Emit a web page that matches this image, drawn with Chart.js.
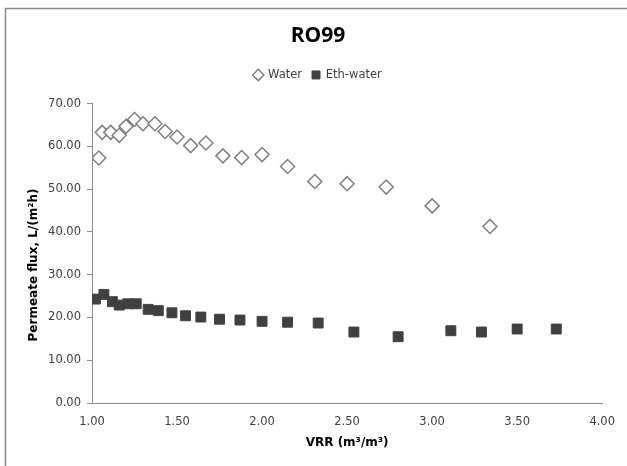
<!DOCTYPE html>
<html>
<head>
<meta charset="utf-8">
<script src="https://cdn.jsdelivr.net/npm/chart.js@4.4.1/dist/chart.umd.min.js"></script>
<style>
	body { margin: 0; background: #fff; }
	#wrap { width: 627px; height: 466px; position: relative; }
</style>
</head>
<body>
<div id="wrap"><canvas id="grafico_ro99"></canvas></div>
<script>
// Datos
const waterVRR = [1.04, 1.06, 1.11, 1.16, 1.20, 1.25, 1.30, 1.37, 1.43, 1.50, 1.58, 1.67, 1.77, 1.88, 2.00, 2.15, 2.31, 2.50, 2.73, 3.00, 3.34];
const waterFlux = [57.3, 63.3, 63.3, 62.6, 64.7, 66.3, 65.3, 65.3, 63.5, 62.2, 60.2, 60.8, 57.8, 57.4, 58.1, 55.3, 51.8, 51.3, 50.5, 46.1, 41.3];

const ethVRR = [1.02, 1.07, 1.12, 1.16, 1.21, 1.26, 1.33, 1.39, 1.47, 1.55, 1.64, 1.75, 1.87, 2.00, 2.15, 2.33, 2.54, 2.80, 3.11, 3.29, 3.50, 3.73];
const ethFlux = [24.3, 25.4, 23.7, 22.9, 23.2, 23.2, 21.9, 21.6, 21.1, 20.4, 20.1, 19.6, 19.4, 19.1, 18.9, 18.7, 16.6, 15.5, 16.9, 16.6, 17.3, 17.3];

const seriesNames = ['Water', 'Eth-water'];
const chartTitle = 'RO99';
const xTitle = 'VRR (m³/m³)';
const yTitle = 'Permeate flux, L/(m²h)';

const toPoints = (xs, ys) => xs.map((x, i) => ({ x: x, y: ys[i] }));

Chart.defaults.font.family = '"DejaVu Sans", sans-serif';
Chart.defaults.font.size = 11.5;
Chart.defaults.color = '#404040';

// marco gris del área del gráfico
const marco = {
	id: 'marco',
	beforeDraw(chart) {
		const ctx = chart.ctx;
		ctx.save();
		ctx.strokeStyle = '#8a8a8a';
		ctx.lineWidth = 1.5;
		ctx.strokeRect(5.5, 8.5, 700, 600);
		ctx.restore();
	},
};

// espacio extra debajo de la leyenda
const legendGap = {
	id: 'legendGap',
	beforeInit(chart) {
		const fitOrig = chart.legend.fit;
		chart.legend.fit = function fit() {
			fitOrig.bind(chart.legend)();
			this.height += 13;
		};
	},
};

// título del eje Y (centrado como en Excel)
const tituloY = {
	id: 'tituloY',
	afterDraw(chart) {
		const ctx = chart.ctx;
		ctx.save();
		ctx.fillStyle = '#000';
		ctx.font = 'bold 12px "DejaVu Sans", sans-serif';
		ctx.textAlign = 'center';
		ctx.textBaseline = 'middle';
		ctx.translate(34, 265);
		ctx.rotate(-Math.PI / 2);
		ctx.fillText(yTitle, 0, 0);
		ctx.restore();
	},
};

const ctx = document.getElementById('grafico_ro99').getContext('2d');

new Chart(ctx, {
	type: 'scatter',
	data: {
		datasets: [
			{
				label: seriesNames[0],
				data: toPoints(waterVRR, waterFlux),
				pointStyle: 'rectRot',
				pointRadius: 7,
				backgroundColor: '#ffffff',
				borderColor: '#7f7f7f',
				borderWidth: 1.5,
			},
			{
				label: seriesNames[1],
				data: toPoints(ethVRR, ethFlux),
				pointStyle: 'rect',
				pointRadius: 7,
				backgroundColor: '#404040',
				borderColor: '#404040',
				borderWidth: 1,
			},
		],
	},
	options: {
		responsive: true,
		maintainAspectRatio: false,
		animation: false,
		events: [],
		layout: {
			padding: { top: 8, left: 33, right: 24, bottom: 0 },
		},
		plugins: {
			title: {
				display: true,
				text: chartTitle,
				color: '#000',
				font: { family: '"Open Sans", sans-serif', size: 21, weight: 'bold' },
				padding: { top: 15, bottom: 11 },
			},
			legend: {
				display: true,
				labels: {
					usePointStyle: true,
					boxWidth: 8,
					boxHeight: 8,
					padding: 10,
					color: '#404040',
				},
			},
			tooltip: { enabled: false },
		},
		scales: {
			x: {
				type: 'linear',
				min: 1,
				max: 4,
				ticks: {
					stepSize: 0.5,
					padding: 12,
					callback: (v) => v.toFixed(2),
				},
				grid: { display: false, drawTicks: false },
				border: { display: true, color: '#8c8c8c' },
				title: {
					display: true,
					text: xTitle,
					color: '#000',
					font: { size: 12, weight: 'bold' },
					padding: { top: 0, bottom: 16 },
				},
				afterFit: (scale) => {
					scale.height = 63;
				},
			},
			y: {
				type: 'linear',
				min: 0,
				max: 70,
				ticks: {
					stepSize: 10,
					padding: 6,
					callback: (v) => v.toFixed(2),
				},
				grid: { drawOnChartArea: false, tickLength: 5, color: '#8c8c8c' },
				border: { display: true, color: '#8c8c8c' },
				afterFit: (scale) => {
					scale.width = 59;
				},
			},
		},
	},
	plugins: [marco, legendGap, tituloY],
});
</script>
</body>
</html>
